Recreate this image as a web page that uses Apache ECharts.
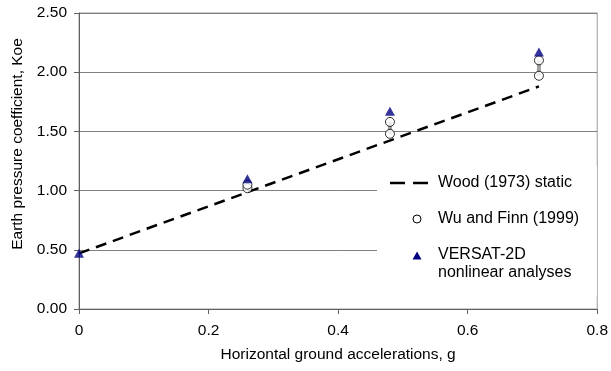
<!DOCTYPE html>
<html>
<head>
<meta charset="utf-8">
<script src="https://cdn.jsdelivr.net/npm/echarts@6/dist/echarts.min.js"></script>
<style>
  html, body { margin: 0; padding: 0; background: #fff; }
  #chart { width: 611px; height: 371px; }
</style>
</head>
<body>
<div id="chart"></div>
<script>
// Horizontal ground acceleration (g) and earth pressure coefficient Koe
const woodAccel = [0, 0.71];
const woodK = [0.47, 1.88];

const wuFinnAccel = [0.26, 0.26, 0.48, 0.48, 0.71, 0.71];
const wuFinnK = [1.02, 1.05, 1.48, 1.58, 1.97, 2.10];

// Range between the two Wu and Finn results at each acceleration
const rangeAccel = [0.26, 0.48, 0.71];
const rangeLow = [1.02, 1.48, 1.97];
const rangeHigh = [1.05, 1.58, 2.10];

const versatAccel = [0, 0.26, 0.48, 0.71];
const versatK = [0.47, 1.10, 1.67, 2.17];

const yTicks = [0, 0.5, 1.0, 1.5, 2.0, 2.5];
const xTicks = [0, 0.2, 0.4, 0.6, 0.8];

const legendNames = ['Wood (1973) static', 'Wu and Finn (1999)', 'VERSAT-2D', 'nonlinear analyses'];

const FONT = 'Liberation Sans, Arial, sans-serif';
const NAVY = '#000080';
const zip = (xs, ys) => xs.map((x, i) => [x, ys[i]]);

const chart = echarts.init(document.getElementById('chart'), null, { renderer: 'canvas' });

// Legend box drawn as graphic elements (dash key, circle key, triangle key)
const legendText = (text, y) => ({
  type: 'text', z: 101,
  x: 438, y: y,
  style: { text: text, font: '16px ' + FONT, fill: '#000', verticalAlign: 'middle', align: 'left' }
});

chart.setOption({
  animation: false,
  backgroundColor: '#fff',
  textStyle: { fontFamily: FONT },
  grid: {
    left: 79, right: 13, top: 13, bottom: 62,
    show: true, borderColor: '#9a9a9a', borderWidth: 1, backgroundColor: 'transparent'
  },
  xAxis: {
    type: 'value',
    min: xTicks[0], max: xTicks[xTicks.length - 1], interval: 0.2,
    name: 'Horizontal ground accelerations, g',
    nameLocation: 'middle', nameGap: 38,
    nameTextStyle: { fontFamily: FONT, fontSize: 15.5, color: '#000', verticalAlign: 'top' },
    axisLine: { show: true, lineStyle: { color: '#606060', width: 1 } },
    axisTick: { show: true, inside: false, length: 5, lineStyle: { color: '#606060' } },
    axisLabel: {
      fontFamily: FONT, fontSize: 15.5, color: '#000', margin: 14,
      formatter: v => (v === 0 ? '0' : String(+v.toFixed(1)))
    },
    splitLine: { show: false }
  },
  yAxis: {
    type: 'value',
    min: yTicks[0], max: yTicks[yTicks.length - 1], interval: 0.5,
    name: 'Earth pressure coefficient, Koe',
    nameLocation: 'middle', nameGap: 50, nameRotate: 90,
    nameTextStyle: { fontFamily: FONT, fontSize: 15.5, color: '#000', padding: [0, 0, 0, 34] },
    axisLine: { show: true, lineStyle: { color: '#606060', width: 1 } },
    axisTick: { show: true, inside: false, length: 5, lineStyle: { color: '#606060' } },
    axisLabel: {
      fontFamily: FONT, fontSize: 15.5, color: '#000', margin: 12,
      formatter: v => v.toFixed(2)
    },
    splitLine: { show: true, lineStyle: { color: '#808080', width: 1 } }
  },
  legend: { show: false },
  graphic: [
    { type: 'rect', z: 100, shape: { x: 377, y: 166, width: 220, height: 130 }, style: { fill: '#fff' } },
    { type: 'line', z: 101, shape: { x1: 390, y1: 183, x2: 405, y2: 183 }, style: { stroke: '#000', lineWidth: 2.5 } },
    { type: 'line', z: 101, shape: { x1: 413, y1: 183, x2: 428, y2: 183 }, style: { stroke: '#000', lineWidth: 2.5 } },
    { type: 'circle', z: 101, shape: { cx: 417, cy: 219, r: 4 }, style: { fill: '#fff', stroke: '#000', lineWidth: 1 } },
    { type: 'polygon', z: 101, shape: { points: [[417, 251.5], [421.5, 259.5], [412.5, 259.5]] }, style: { fill: NAVY } },
    legendText(legendNames[0], 183),
    legendText(legendNames[1], 219),
    legendText(legendNames[2], 255),
    legendText(legendNames[3], 273)
  ],
  series: [
    {
      name: 'Wood (1973) static',
      type: 'line',
      data: zip(woodAccel, woodK),
      showSymbol: false, symbol: 'none',
      lineStyle: { color: '#000', width: 2.5, type: [11, 7] },
      itemStyle: { color: '#000' },
      z: 2
    },
    {
      name: 'Wu and Finn range',
      type: 'custom',
      data: rangeAccel.map((x, i) => [x, rangeLow[i], rangeHigh[i]]),
      renderItem: (params, api) => {
        const lo = api.coord([api.value(0), api.value(1)]);
        const hi = api.coord([api.value(0), api.value(2)]);
        return {
          type: 'line',
          shape: { x1: lo[0], y1: lo[1], x2: hi[0], y2: hi[1] },
          style: { stroke: '#a0a0a0', lineWidth: 4 }
        };
      },
      z: 3
    },
    {
      name: 'Wu and Finn (1999)',
      type: 'scatter',
      data: zip(wuFinnAccel, wuFinnK),
      symbol: 'circle', symbolSize: 9,
      itemStyle: { color: '#fff', borderColor: '#000', borderWidth: 1 },
      z: 4
    },
    {
      name: 'VERSAT-2D nonlinear analyses',
      type: 'scatter',
      data: zip(versatAccel, versatK),
      symbol: 'triangle', symbolSize: [10, 9],
      itemStyle: { color: NAVY },
      z: 5
    }
  ]
});
</script>
</body>
</html>
